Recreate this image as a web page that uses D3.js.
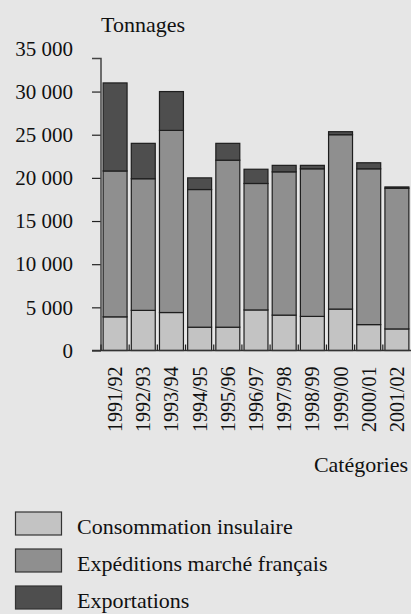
<html><head><meta charset="utf-8"><script src="https://cdn.jsdelivr.net/npm/d3@7"></script></head>
<body style="margin:0;background:#e6e6e6">
<script>
const categories = ["1991/92","1992/93","1993/94","1994/95","1995/96","1996/97","1997/98","1998/99","1999/00","2000/01","2001/02"];
const consommation = [3900, 4650, 4400, 2700, 2700, 4700, 4100, 3950, 4800, 3000, 2500];
const expeditions  = [16900, 15250, 21100, 15950, 19350, 14650, 16600, 17100, 20200, 18050, 16300];
const exportations = [10200, 4100, 4500, 1350, 1950, 1650, 750, 400, 350, 700, 150];
const seriesNames = ["Consommation insulaire", "Expéditions marché français", "Exportations"];
const seriesColors = ["#c3c3c3", "#8f8f8f", "#4e4e4e"];
const yTicks = [0, 5000, 10000, 15000, 20000, 25000, 30000, 35000];
const yTitle = "Tonnages";
const xTitle = "Catégories";

const W = 411, H = 614;
const fontParts = ["Liberation", "Serif"];
const FONT = fontParts.join(" ");
function serif(sel) { return sel.attr("font-family", FONT); }

const svg = d3.select("body").append("svg").attr("width", W).attr("height", H);
svg.append("rect").attr("width", W).attr("height", H).attr("fill", "#e6e6e6");

const x0 = 101, x1 = 411, yBase = 350.5, yMaxPix = 48.4;
const x = d3.scaleBand().domain(categories).range([x0, x1]).paddingInner(0.15).paddingOuter(0.075);
const y = d3.scaleLinear().domain([0, 35000]).range([yBase, yMaxPix]);

const rows = categories.map((c, i) => ({cat: c, s0: consommation[i], s1: expeditions[i], s2: exportations[i]}));
const stacked = d3.stack().keys(["s0", "s1", "s2"])(rows);

const locale = d3.formatLocale({decimal: ",", thousands: " ", grouping: [3], currency: ["", ""]});
const fmt = locale.format(",");

// bars
const g = svg.append("g");
stacked.forEach((layer, k) => {
  g.selectAll(null).data(layer).enter().append("rect")
    .attr("x", d => x(d.data.cat))
    .attr("width", x.bandwidth())
    .attr("y", d => y(d[1]))
    .attr("height", d => y(d[0]) - y(d[1]))
    .attr("fill", seriesColors[k])
    .attr("stroke", "#1e1e1e")
    .attr("stroke-width", 1.2);
});

// y axis
const yAxis = d3.axisLeft(y).tickValues(yTicks).tickFormat(fmt).tickSize(9).tickPadding(19);
const ya = svg.append("g").attr("transform", `translate(${x0},0)`).call(yAxis);
serif(ya);
ya.select(".domain").remove();
ya.selectAll(".tick line").attr("stroke", "#222").attr("stroke-width", 1.2)
  .filter(d => d === 35000).remove();
serif(ya.selectAll(".tick text")).attr("font-size", 21).attr("fill", "#111");
const yTopPix = y(35000) + 10;
svg.append("path").attr("d", `M${x0 - 9},${yTopPix}H${x0}V${yBase}`)
  .attr("fill", "none").attr("stroke", "#444").attr("stroke-width", 1.5);

// x axis baseline + boundary ticks
svg.append("line").attr("x1", x0 - 9).attr("x2", x1).attr("y1", yBase).attr("y2", yBase)
  .attr("stroke", "#333").attr("stroke-width", 1.4);
const step = x.step();
const bounds = d3.range(categories.length).map(i => x0 + i * step);
svg.selectAll(null).data(bounds).enter().append("line")
  .attr("x1", d => d).attr("x2", d => d).attr("y1", yBase).attr("y2", yBase - 6)
  .attr("stroke", "#222").attr("stroke-width", 1.2);

// x labels
serif(svg.selectAll(null).data(categories).enter().append("text"))
  .attr("transform", d => `translate(${x(d) + x.bandwidth() / 2 + 7},${yBase + 16}) rotate(-90)`)
  .attr("text-anchor", "end")
  .attr("font-size", 20).attr("fill", "#111")
  .text(d => d);

// titles
serif(svg.append("text")).attr("x", 101).attr("y", 32).attr("font-size", 22).attr("fill", "#111").text(yTitle);
serif(svg.append("text")).attr("x", 408).attr("y", 472).attr("text-anchor", "end").attr("font-size", 22).attr("fill", "#111").text(xTitle);

// legend
const legY = [512, 549, 586];
const lg = svg.append("g");
seriesNames.forEach((name, k) => {
  lg.append("rect").attr("x", 15.5).attr("y", legY[k]).attr("width", 46).attr("height", 23)
    .attr("fill", seriesColors[k]).attr("stroke", "#333").attr("stroke-width", 1.2);
  serif(lg.append("text")).attr("x", 77).attr("y", legY[k] + 22).attr("font-size", 22).attr("fill", "#111").text(name);
});
</script>
</body>
</html>
